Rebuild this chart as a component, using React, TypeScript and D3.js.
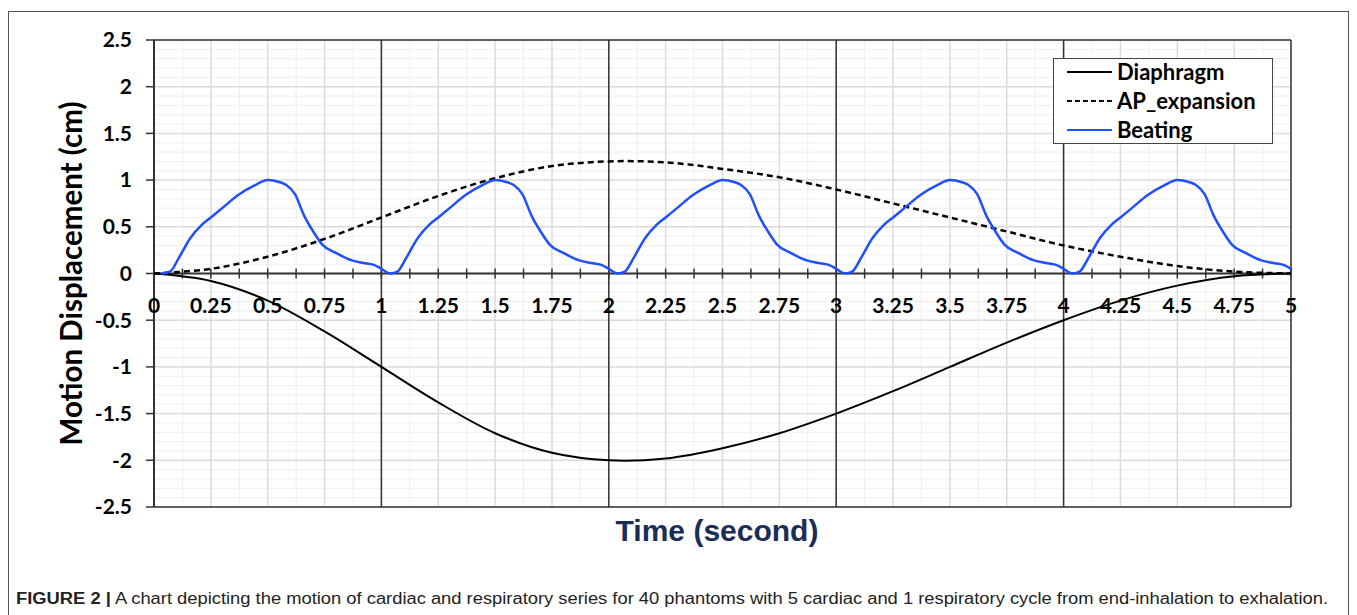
import React from "react";
import * as d3 from "d3";

// ---- data ----
const respTime = [0, 0.25, 0.5, 0.75, 1, 1.25, 1.5, 1.75, 2, 2.25, 2.5, 2.75, 3, 3.25, 3.5, 3.75, 4, 4.25, 4.5, 4.75, 5];
const diaphragm = [0, -0.08, -0.29, -0.62, -1.0, -1.38, -1.71, -1.92, -2.0, -1.98, -1.87, -1.71, -1.5, -1.26, -1.0, -0.74, -0.5, -0.29, -0.13, -0.03, 0];
const apExpansion = [0, 0.05, 0.18, 0.37, 0.6, 0.83, 1.02, 1.15, 1.2, 1.19, 1.12, 1.03, 0.9, 0.75, 0.6, 0.45, 0.3, 0.18, 0.08, 0.02, 0];

const beatTime = [
  0.03, 0.07, 0.11, 0.16, 0.21, 0.25, 0.3, 0.37, 0.44, 0.5, 0.55, 0.58, 0.62, 0.66, 0.7, 0.74, 0.8, 0.87, 0.93, 0.97, 1.0,
  1.04, 1.07, 1.11, 1.16, 1.21, 1.25, 1.3, 1.37, 1.44, 1.5, 1.55, 1.58, 1.62, 1.66, 1.7, 1.74, 1.8, 1.87, 1.93, 1.97, 2.0,
  2.04, 2.07, 2.11, 2.16, 2.21, 2.25, 2.3, 2.37, 2.44, 2.5, 2.55, 2.58, 2.62, 2.66, 2.7, 2.74, 2.8, 2.87, 2.93, 2.97, 3.0,
  3.04, 3.07, 3.11, 3.16, 3.21, 3.25, 3.3, 3.37, 3.44, 3.5, 3.55, 3.58, 3.62, 3.66, 3.7, 3.74, 3.8, 3.87, 3.93, 3.97, 4.0,
  4.04, 4.07, 4.11, 4.16, 4.21, 4.25, 4.3, 4.37, 4.44, 4.5, 4.55, 4.58, 4.62, 4.66, 4.7, 4.74, 4.8, 4.87, 4.93, 4.97, 5.0,
];
const beating = [
  0, 0.02, 0.17, 0.38, 0.52, 0.6, 0.7, 0.84, 0.94, 1.0, 0.98, 0.95, 0.85, 0.62, 0.45, 0.31, 0.22, 0.14, 0.11, 0.09, 0.05,
  0, 0.02, 0.17, 0.38, 0.52, 0.6, 0.7, 0.84, 0.94, 1.0, 0.98, 0.95, 0.85, 0.62, 0.45, 0.31, 0.22, 0.14, 0.11, 0.09, 0.05,
  0, 0.02, 0.17, 0.38, 0.52, 0.6, 0.7, 0.84, 0.94, 1.0, 0.98, 0.95, 0.85, 0.62, 0.45, 0.31, 0.22, 0.14, 0.11, 0.09, 0.05,
  0, 0.02, 0.17, 0.38, 0.52, 0.6, 0.7, 0.84, 0.94, 1.0, 0.98, 0.95, 0.85, 0.62, 0.45, 0.31, 0.22, 0.14, 0.11, 0.09, 0.05,
  0, 0.02, 0.17, 0.38, 0.52, 0.6, 0.7, 0.84, 0.94, 1.0, 0.98, 0.95, 0.85, 0.62, 0.45, 0.31, 0.22, 0.14, 0.11, 0.09, 0.05,
];

const xTickLabels = ["0", "0.25", "0.5", "0.75", "1", "1.25", "1.5", "1.75", "2", "2.25", "2.5", "2.75", "3", "3.25", "3.5", "3.75", "4", "4.25", "4.5", "4.75", "5"];
const yTickLabels = ["2.5", "2", "1.5", "1", "0.5", "0", "-0.5", "-1", "-1.5", "-2", "-2.5"];
const legendNames = ["Diaphragm", "AP_expansion", "Beating"];

const W = 1357;
const H = 615;
const L = 154, R = 1291, T = 40, B = 507;
const FONT = "Lato, 'Open Sans', sans-serif";

export default function App() {
  const x = d3.scaleLinear().domain([0, 5]).range([L, R]);
  const y = d3.scaleLinear().domain([-2.5, 2.5]).range([B, T]);

  const minorX = d3.range(0, 41).map((i) => i * 0.125);
  const minorY = d3.range(-25, 26).map((i) => i / 10);
  const majorY = yTickLabels.map(Number);

  const smooth = d3
    .line<[number, number]>()
    .x((d) => x(d[0]))
    .y((d) => y(d[1]))
    .curve(d3.curveCatmullRom.alpha(0.5));
  const mono = d3
    .line<[number, number]>()
    .x((d) => x(d[0]))
    .y((d) => y(d[1]))
    .curve(d3.curveMonotoneX);

  const diaPath = smooth(respTime.map((t, i) => [t, diaphragm[i]] as [number, number]));
  const apPath = smooth(respTime.map((t, i) => [t, apExpansion[i]] as [number, number]));
  const beatPath = mono(beatTime.map((t, i) => [t, beating[i]] as [number, number]));

  const legendStyles = [
    { stroke: "#000", dash: undefined as string | undefined },
    { stroke: "#000", dash: "5 3" },
    { stroke: "#1f4fff", dash: undefined },
  ];

  return (
    <svg width={W} height={H} style={{ position: "absolute", left: 0, top: 0 }}>
      <rect x={0} y={0} width={W} height={H} fill="#fff" />
      {/* outer figure frame */}
      <rect x={8.5} y={11.5} width={1340} height={640} fill="none" stroke="#555" strokeWidth={1} />

      {/* minor grid */}
      {minorY.map((v, i) => (
        <line key={"my" + i} x1={L} x2={R} y1={y(v)} y2={y(v)} stroke="#efefef" strokeWidth={1} />
      ))}
      {minorX.map((v, i) => (
        <line key={"mx" + i} x1={x(v)} x2={x(v)} y1={T} y2={B}
          stroke={i % 2 === 0 ? "#dcdcdc" : "#eeeeee"} strokeWidth={i % 2 === 0 ? 1.5 : 1} />
      ))}
      {majorY.map((v, i) => (
        <line key={"gy" + i} x1={L} x2={R} y1={y(v)} y2={y(v)} stroke="#dcdcdc" strokeWidth={1.5} />
      ))}
      {/* integer verticals */}
      {[1, 2, 3, 4, 5].map((v) => (
        <line key={"iv" + v} x1={x(v)} x2={x(v)} y1={T} y2={B} stroke="#333" strokeWidth={1.5} />
      ))}
      {/* frame top / bottom */}
      <line x1={L} x2={R} y1={T} y2={T} stroke="#333" strokeWidth={1.5} />
      <line x1={L} x2={R} y1={B} y2={B} stroke="#333" strokeWidth={1.5} />

      {/* y axis */}
      <line x1={L} x2={L} y1={T} y2={B} stroke="#333" strokeWidth={2} />
      {majorY.map((v, i) => (
        <line key={"yt" + i} x1={L - 8} x2={L} y1={y(v)} y2={y(v)} stroke="#333" strokeWidth={1.5} />
      ))}
      {yTickLabels.map((lab, i) => (
        <text key={"yl" + i} x={L - 22} y={y(Number(lab))} dy="0.35em" textAnchor="end"
          fontFamily={FONT} fontWeight={700} fontSize={21} fill="#000">{lab}</text>
      ))}

      {/* x axis at zero */}
      <line x1={L} x2={R} y1={y(0)} y2={y(0)} stroke="#333" strokeWidth={2} />
      {minorX.map((v, i) => (
        <line key={"xt" + i} x1={x(v)} x2={x(v)} y1={y(0) - 5} y2={y(0) + 5} stroke="#333" strokeWidth={1.5} />
      ))}
      {xTickLabels.map((lab, i) => (
        <text key={"xl" + i} x={x(Number(lab))} y={y(0) + 39} textAnchor="middle"
          fontFamily={FONT} fontWeight={700} fontSize={21} fill="#000">{lab}</text>
      ))}

      {/* series */}
      <path d={diaPath ?? ""} fill="none" stroke="#000" strokeWidth={2} />
      <path d={apPath ?? ""} fill="none" stroke="#000" strokeWidth={2.5} strokeDasharray="6 4" />
      <path d={beatPath ?? ""} fill="none" stroke="#1f4fff" strokeWidth={2.5} />

      {/* legend */}
      <rect x={1053.5} y={58.5} width={219} height={85} fill="#fff" stroke="#444" strokeWidth={1} />
      {legendNames.map((name, i) => {
        const ry = 72 + i * 29;
        const s = legendStyles[i];
        return (
          <g key={name}>
            <line x1={1067} x2={1112} y1={ry} y2={ry} stroke={s.stroke} strokeWidth={2} strokeDasharray={s.dash} />
            <text x={1117} y={ry} dy="0.35em" fontFamily={FONT} fontWeight={700} fontSize={22} fill="#000">{name}</text>
          </g>
        );
      })}

      {/* axis titles */}
      <text transform={`translate(72, ${(T + B) / 2}) rotate(-90)`} textAnchor="middle" dy="0.35em"
        fontFamily={FONT} fontWeight={700} fontSize={29.5} fill="#000">Motion Displacement (cm)</text>
      <text x={717} y={541} textAnchor="middle"
        fontFamily="'Liberation Sans', Arial, sans-serif" fontWeight={700} fontSize={30} fill="#1c2d55">Time (second)</text>

      {/* caption */}
      <text x={16} y={604} fontFamily="'Liberation Sans', Arial, sans-serif" fontSize={16} fill="#222"
        textLength={1312} lengthAdjust="spacingAndGlyphs">
        <tspan fontWeight={700}>FIGURE 2 |</tspan>
        <tspan> A chart depicting the motion of cardiac and respiratory series for 40 phantoms with 5 cardiac and 1 respiratory cycle from end-inhalation to exhalation.</tspan>
      </text>
    </svg>
  );
}
